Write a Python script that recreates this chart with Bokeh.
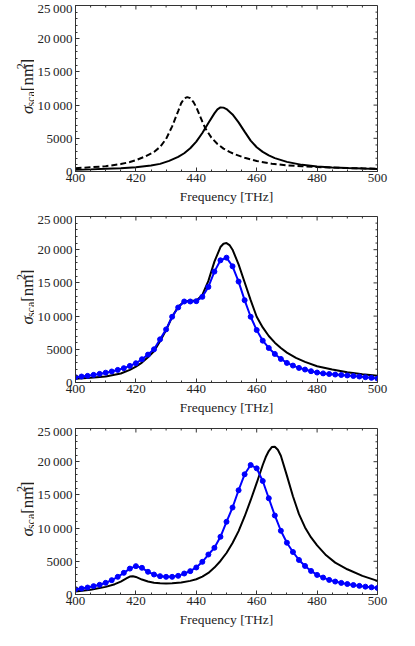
from math import pi
from bokeh.plotting import figure
from bokeh.layouts import column, row
from bokeh.models import Range1d, LinearAxis, FixedTicker
from bokeh.core.properties import value
from bokeh.embed import file_html
from bokeh.resources import INLINE

# ---------------- data ----------------
x_ticks = [400, 420, 440, 460, 480, 500]
x_minor = list(range(400, 501, 5))
y_ticks = [0, 5000, 10000, 15000, 20000, 25000]
y_tick_labels = ["0", "5000", "10\u2009000", "15\u2009000", "20\u2009000", "25\u2009000"]
y_minor = list(range(0, 25001, 1000))
x_label = "Frequency [THz]"
# y label pieces: sigma, subscript "sca", "[nm", superscript "2", "]"
y_label_parts = ["\u03c3", "sca", "[nm", "2", "]"]

# panel 1
p1_solid_f = [400, 405, 410, 415, 420, 425, 428, 431, 434, 436, 438, 440, 442, 444, 446, 447, 448,
              449, 450, 452, 454, 456, 458, 460, 462, 464, 466, 470, 475, 480, 485, 490, 495, 500]
p1_solid_v = [250, 320, 400, 500, 650, 900, 1150, 1600, 2200, 2750, 3500, 4500, 5800, 7300, 8750, 9350, 9650,
              9620, 9400, 8600, 7400, 6000, 4650, 3650, 2950, 2420, 2020, 1450, 1000, 760, 620, 510, 440, 390]
p1_dash_f = [400, 405, 410, 415, 418, 420, 423, 426, 428, 430, 432, 434, 435, 436, 437, 438, 439,
             440, 441, 442, 443, 445, 447, 449, 451, 453, 456, 460, 465, 470, 475, 480, 490, 500]
p1_dash_v = [500, 640, 800, 1120, 1420, 1700, 2250, 2950, 3700, 4900, 6800, 9100, 10300, 11000, 11200, 11050, 10500,
             9700, 8600, 7500, 6500, 5100, 4150, 3450, 2950, 2550, 2080, 1580, 1180, 930, 790, 680, 520, 420]

# panel 2
p2_blue_f = list(range(400, 501, 2))
p2_blue_v = [800, 900, 1000, 1150, 1300, 1480, 1660, 1900, 2160, 2500,
             2900, 3500, 4200, 5000, 6500, 8000, 9900, 11300, 12200, 12200,
             12250, 12900, 14400, 16700, 18400, 18800, 17500, 15200, 12400, 9900,
             7900, 6300, 5200, 4300, 3550, 2950, 2550, 2200, 1950, 1700,
             1500, 1370, 1280, 1200, 1130, 1060, 980, 900, 800, 700, 600]
p2_black_f = [400, 405, 410, 415, 418, 420, 422, 424, 426, 428, 430, 432, 434, 436, 438, 440, 442, 444, 446, 448,
              449, 450, 451, 452, 454, 456, 458, 460, 462, 464, 466, 468, 470, 473, 476, 480, 485, 490, 495, 500]
p2_black_v = [550, 700, 900, 1350, 1900, 2400, 3000, 3800, 4700, 6200, 7900, 9900, 11400, 12200, 12300, 12300,
              13200, 15300, 18200, 20400, 20900, 21000, 20700, 20000, 17800, 15100, 12400, 9900, 8300, 7000,
              6000, 5200, 4500, 3700, 3100, 2450, 1950, 1550, 1250, 1000]

# panel 3
p3_blue_f = list(range(400, 501, 2))
p3_blue_v = [800, 900, 1050, 1260, 1460, 1760, 2160, 2660, 3260, 3900,
             4270, 4020, 3420, 3010, 2760, 2660, 2660, 2810, 3160, 3520,
             4070, 4920, 6020, 7030, 8690, 10950, 13100, 15700, 18100, 19500,
             19000, 17100, 14500, 11900, 9600, 7800, 6400, 5200, 4300, 3550,
             2950, 2550, 2200, 1950, 1750, 1580, 1430, 1300, 1180, 1080, 980]
p3_black_f = [400, 405, 410, 413, 415, 417, 418, 419, 420, 422, 424, 426, 428, 430, 432, 435, 438, 440, 442, 444,
              446, 448, 450, 452, 454, 456, 458, 460, 462, 463, 464, 465, 466, 467, 468, 470, 472, 474, 476, 478,
              480, 483, 486, 490, 495, 500]
p3_black_v = [450, 700, 1150, 1550, 1950, 2450, 2700, 2750, 2650, 2250, 1950, 1780, 1680, 1650, 1680, 1800, 2050,
              2300, 2700, 3250, 4050, 5050, 6250, 7750, 9550, 11750, 14200, 16800, 19500, 20700, 21600, 22200,
              22250, 21800, 20900, 17900, 14800, 12100, 10100, 8600, 7400, 5900, 4800, 3800, 2800, 2050]

FONT = "Liberation Serif, Times New Roman, DejaVu Serif, serif"
TXT = "#222222"
FRAME = "#333333"
BLUE = "#0000ff"

LBL_W = 34                 # width of the strip that holds the rotated y label
BORDER_LEFT = 39
BORDER_RIGHT = 15
H_FRAME, W_FRAME = 166, 304
W_MAIN = BORDER_LEFT + W_FRAME + BORDER_RIGHT
BORDER_TOP = 5
X0, X1, Y0, Y1 = 400, 500, 0, 25000
PX_X = (X1 - X0) / W_FRAME   # data units per pixel
PX_Y = (Y1 - Y0) / H_FRAME


def style_axis(ax):
    ax.axis_line_color = FRAME
    ax.axis_line_width = 1
    ax.major_tick_line_color = FRAME
    ax.minor_tick_line_color = FRAME
    ax.major_tick_in = 4
    ax.major_tick_out = 0
    ax.minor_tick_in = 2
    ax.minor_tick_out = 0
    ax.major_label_text_font = FONT
    ax.major_label_text_font_size = "13px"
    ax.major_label_text_color = TXT
    ax.major_label_standoff = 3


def make_label_strip(height):
    """Narrow figure that carries the rotated y-axis title sigma_sca [nm^2]."""
    s = figure(width=LBL_W, height=height, output_backend="svg", toolbar_location=None,
               x_range=Range1d(0, LBL_W), y_range=Range1d(0, height),
               x_axis_location=None, y_axis_location=None,
               min_border=0, outline_line_color=None)
    s.grid.visible = False
    bottom = height - BORDER_TOP - H_FRAME   # frame bottom, measured from strip bottom
    base_x = 27
    start = bottom + 33
    # (x offset, distance along text, font size, style)
    geom = [(0, 0.0, "17px", "italic"),
            (3.5, 9.5, "12px", "normal"),
            (0, 29.0, "17px", "normal"),
            (-7, 57.0, "12px", "normal"),
            (0, 63.0, "17px", "normal")]
    for txt, (dx, ds, fs, st) in zip(y_label_parts, geom):
        s.text(x=[base_x + dx], y=[start + ds], text=[txt], angle=pi / 2,
               text_align="left", text_baseline="alphabetic",
               text_font=value(FONT), text_font_size=value(fs),
               text_font_style=st, text_color=TXT)
    return s


def make_fig(height):
    p = figure(width=W_MAIN, height=height, output_backend="svg", toolbar_location=None,
               x_range=Range1d(X0, X1), y_range=Range1d(Y0, Y1),
               x_axis_location=None, y_axis_location=None,
               min_border_left=BORDER_LEFT, min_border_right=BORDER_RIGHT,
               min_border_top=BORDER_TOP,
               min_border_bottom=height - BORDER_TOP - H_FRAME)
    p.grid.visible = False
    p.outline_line_color = FRAME
    p.outline_line_width = 1

    xt = FixedTicker(ticks=x_ticks, minor_ticks=x_minor)
    yt = FixedTicker(ticks=y_ticks, minor_ticks=y_minor)

    xb = LinearAxis(ticker=xt, axis_label=x_label)
    style_axis(xb)
    xb.major_label_standoff = 2
    xb.axis_label_text_font = FONT
    xb.axis_label_text_font_size = "13.5px"
    xb.axis_label_text_font_style = "normal"
    xb.axis_label_text_color = TXT
    xb.axis_label_standoff = 4
    p.add_layout(xb, "below")

    yl = LinearAxis(ticker=yt)
    style_axis(yl)
    yl.major_label_overrides = {t: s for t, s in zip(y_ticks, y_tick_labels)}
    p.add_layout(yl, "left")

    # mirrored ticks on top and right edges of the frame
    top_major = x_ticks
    top_minor = [t for t in x_minor if t not in x_ticks]
    p.segment(top_major, [Y1] * len(top_major), top_major, [Y1 - 4 * PX_Y] * len(top_major),
              line_color=FRAME, line_width=1)
    p.segment(top_minor, [Y1] * len(top_minor), top_minor, [Y1 - 2 * PX_Y] * len(top_minor),
              line_color=FRAME, line_width=1)
    r_major = y_ticks
    r_minor = [t for t in y_minor if t not in y_ticks]
    p.segment([X1] * len(r_major), r_major, [X1 - 4 * PX_X] * len(r_major), r_major,
              line_color=FRAME, line_width=1)
    p.segment([X1] * len(r_minor), r_minor, [X1 - 2 * PX_X] * len(r_minor), r_minor,
              line_color=FRAME, line_width=1)
    return p


p1 = make_fig(211)
p1.line(p1_solid_f, p1_solid_v, line_color="black", line_width=2)
p1.line(p1_dash_f, p1_dash_v, line_color="black", line_width=2, line_dash="6 3")

p2 = make_fig(212)
p2.line(p2_black_f, p2_black_v, line_color="black", line_width=2)
p2.line(p2_blue_f, p2_blue_v, line_color=BLUE, line_width=2)
p2.scatter(p2_blue_f, p2_blue_v, size=5, fill_color=BLUE, line_color=BLUE)

p3 = make_fig(212)
p3.line(p3_black_f, p3_black_v, line_color="black", line_width=2)
p3.line(p3_blue_f, p3_blue_v, line_color=BLUE, line_width=2)
p3.scatter(p3_blue_f, p3_blue_v, size=5, fill_color=BLUE, line_color=BLUE)

layout = column(
    row(make_label_strip(211), p1, spacing=0),
    row(make_label_strip(212), p2, spacing=0),
    row(make_label_strip(212), p3, spacing=0),
    spacing=0,
)
open("out.html", "w").write(file_html(layout, INLINE))
